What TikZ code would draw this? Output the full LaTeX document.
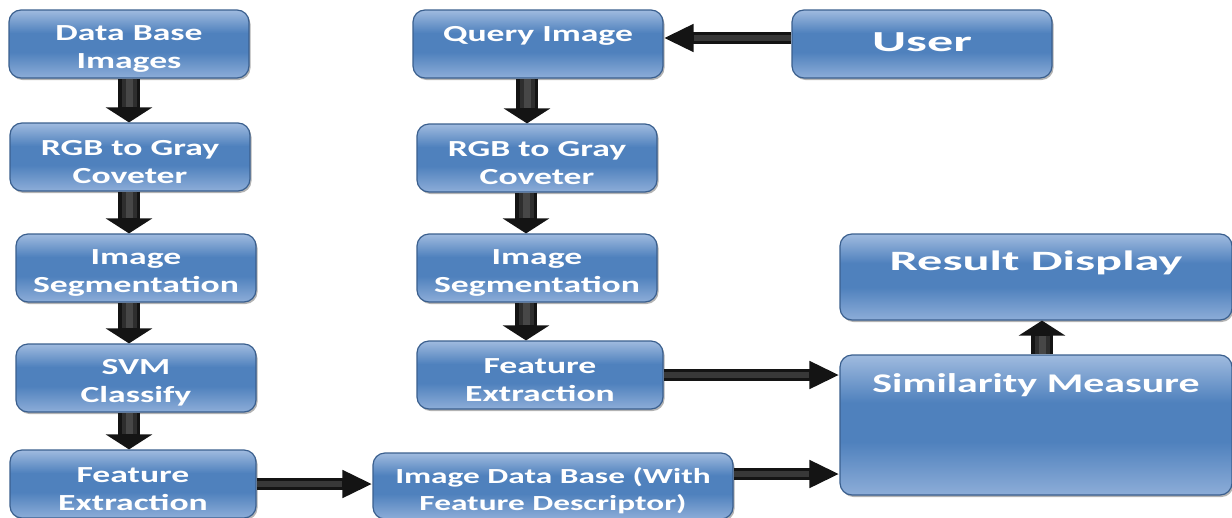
\documentclass[tikz,border=0pt]{standalone}
\usepackage{fontspec}
\newfontfamily\boxfont{Carlito}[FakeStretch=1.55]
\newfontfamily\widefont{Carlito}[FakeStretch=1.8]
\usetikzlibrary{arrows.meta,shadows}

\definecolor{bxtop}{HTML}{A0BBDF}
\definecolor{bxmid}{HTML}{4F81BD}
\definecolor{bxbot}{HTML}{8DADD8}
\definecolor{bxline}{HTML}{3A5F8E}
\pgfdeclareverticalshading{boxfill}{100bp}{color(0bp)=(bxbot); color(25bp)=(bxbot); color(44bp)=(bxmid); color(58bp)=(bxmid); color(75bp)=(bxtop); color(100bp)=(bxtop)}
\newcommand\lowstrut{\rule{0pt}{25pt}}

\tikzset{
  stepbox/.style={rectangle, rounded corners=12pt, draw=bxline, line width=1.2pt, shade, shading=boxfill,
    text=white, font=\boxfont\bfseries\fontsize{23}{28}\selectfont, align=center,
    minimum height=68pt, inner sep=2pt,
    drop shadow={shadow xshift=1.5pt, shadow yshift=-2pt, opacity=.6}},
  bigbox/.style={stepbox, font=\widefont\bfseries\fontsize{28}{33}\selectfont},
  downarrow/.style={draw=black!92, line width=22pt, -{Triangle[length=15pt, width=46pt]},
    postaction={draw=black!82, line width=15pt, -, shorten >=15pt},
    postaction={draw=black!72, line width=7pt, -, shorten >=15pt}},
  sidearrow/.style={draw=black!92, line width=12pt, -{Triangle[length=30pt, width=26pt]},
    postaction={draw=black!78, line width=6pt, -, shorten >=30pt}}
}

\begin{document}
\begin{tikzpicture}[x=1pt, y=-1pt]
\useasboundingbox (0,0) rectangle (1232,517);

% data base side
\foreach \cx/\cy/\w/\t [count=\i] in {129/44/240/{Data Base\\Images}, 130/157/240/{RGB to Gray\\Coveter},
    136/268/240/{Image\\Segmentation}, 136/378/240/{SVM\\Classify}, 133/484/246/{Feature\\Extraction}}
  \node [stepbox, minimum width=\w pt] (left-\i) at (\cx,\cy) {\lowstrut\t};

% query side
\foreach \cx/\cy/\w/\t [count=\i] in {538/44/250/{\raisebox{13pt}[\height][\depth]{Query Image}}, 537/158/240/{RGB to Gray\\Coveter},
    537/268/240/{Image\\Segmentation}, 540/375/246/{Feature\\Extraction}}
  \node [stepbox, minimum width=\w pt] (mid-\i) at (\cx,\cy) {\lowstrut\t};

\node [bigbox, font=\widefont\bfseries\fontsize{29}{33}\selectfont, minimum width=260pt] (user) at (922,44) {\raisebox{3pt}{User}};
\node [stepbox, font=\boxfont\bfseries\fontsize{21.5}{27}\selectfont, minimum width=360pt, minimum height=66pt] (imgdb) at (553,486) {\lowstrut Image Data Base (With\\Feature Descriptor)};
\node [bigbox, minimum width=392pt, minimum height=86pt] (result) at (1036,277) {\raisebox{14pt}[\height][\depth]{Result Display}};
\node [bigbox, font=\boxfont\bfseries\fontsize{27}{33}\selectfont, minimum width=392pt, minimum height=140pt] (simil) at (1036,425) {\raisebox{40pt}[\height][\depth]{Similarity Measure}};

\foreach \i/\j in {1/2,2/3,3/4,4/5}
  \draw [downarrow] (left-\i.south -| left-1.south) -- (left-\j.north -| left-1.south);

\foreach \i/\j in {1/2,2/3,3/4}
  \draw [downarrow] ([xshift=-11pt]mid-\i.south) -- ([xshift=-11pt]mid-\i.south |- mid-\j.north);

\draw [downarrow] ([xshift=6pt]simil.north) -- ([xshift=6pt]result.south);

\draw [sidearrow] ([yshift=6pt]user.west) -- ([yshift=6pt]user.west -| mid-1.east);
\draw [sidearrow] (left-5.east) -- (left-5.east -| imgdb.west);
\draw [sidearrow] (mid-4.east) -- (mid-4.east -| simil.west);
\draw [sidearrow] ([yshift=12pt]imgdb.east) -- ([yshift=12pt]imgdb.east -| simil.west);

\end{tikzpicture}
\end{document}
